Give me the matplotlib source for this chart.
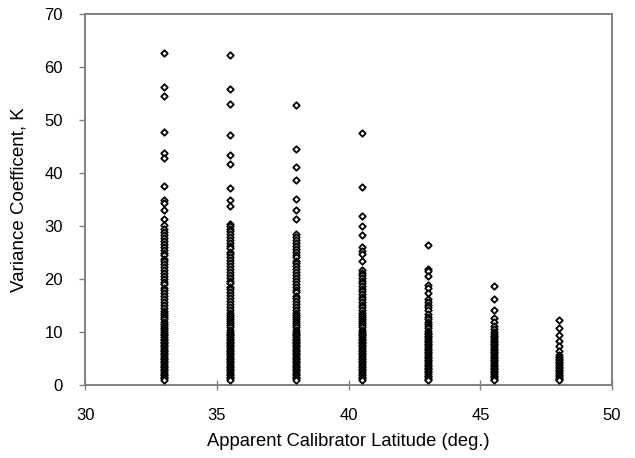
import matplotlib
matplotlib.use("Agg")
import matplotlib.pyplot as plt

plt.rcParams['font.family'] = ['Liberation Sans', 'DejaVu Sans']

latitudes = [33.0, 35.5, 38.0, 40.5, 43.0, 45.5, 48.0]

k_33 = [62.7, 56.2, 54.6, 47.7, 43.8, 42.9, 37.5, 35.0, 34.4, 33.0, 31.4, 30.3,
        29.4, 28.9, 28.3, 27.8, 27.2, 26.7, 26.1, 25.6, 25.0, 24.5, 23.9, 23.4,
        22.8, 22.3, 21.7, 21.2, 20.6, 20.1, 19.5, 19.0, 18.4, 17.9, 17.3, 16.8,
        16.2, 15.7, 15.1, 14.6, 14.0, 13.6, 13.2, 12.8, 12.4, 12.0, 11.6, 11.2,
        10.8, 10.4, 10.0, 9.7, 9.4, 9.1, 8.8, 8.5, 8.2, 7.9, 7.6, 7.3, 7.0, 6.7,
        6.4, 6.1, 5.8, 5.5, 5.2, 4.9, 4.6, 4.3, 4.0, 3.7, 3.4, 3.1, 2.8, 2.5,
        2.2, 1.9, 1.6, 1.3, 1.0]

k_35 = [62.3, 55.8, 53.1, 47.3, 43.4, 41.7, 37.2, 34.9, 33.8, 30.5, 30.0,
        29.5, 29.0, 28.5, 28.0, 27.4, 26.9, 26.3, 25.8, 25.2, 24.7, 24.1, 23.6,
        23.0, 22.5, 21.9, 21.4, 20.8, 20.3, 19.7, 19.2, 18.6, 18.1, 17.5, 17.0,
        16.4, 15.9, 15.3, 14.8, 14.2, 13.7, 13.3, 12.9, 12.5, 12.1, 11.7, 11.3,
        10.9, 10.5, 10.1, 9.7, 9.4, 9.1, 8.8, 8.5, 8.2, 7.9, 7.6, 7.3, 7.0, 6.7,
        6.4, 6.1, 5.8, 5.5, 5.2, 4.9, 4.6, 4.3, 4.0, 3.7, 3.4, 3.1, 2.8, 2.5,
        2.2, 1.9, 1.6, 1.3, 1.0]

k_38 = [52.8, 44.6, 41.1, 38.8, 35.1, 33.0, 31.4, 28.5, 28.0, 27.4, 26.8,
        26.3, 25.7, 25.2, 24.6, 24.1, 23.5, 23.0, 22.4, 21.9, 21.3, 20.8, 20.2,
        19.7, 19.1, 18.6, 18.0, 17.5, 16.9, 16.4, 15.8, 15.3, 14.7, 14.2, 13.7,
        13.3, 12.9, 12.5, 12.1, 11.7, 11.3, 10.9, 10.5, 10.1, 9.7, 9.4, 9.1,
        8.8, 8.5, 8.2, 7.9, 7.6, 7.3, 7.0, 6.7, 6.4, 6.1, 5.8, 5.5, 5.2, 4.9,
        4.6, 4.3, 4.0, 3.7, 3.4, 3.1, 2.8, 2.5, 2.2, 1.9, 1.6, 1.3, 1.0]

k_40 = [47.5, 37.3, 31.9, 30.1, 28.3, 26.0, 25.3, 24.7, 23.4, 21.7, 21.2,
        20.7, 20.2, 19.7, 19.2, 18.7, 18.2, 17.7, 17.2, 16.7, 16.2, 15.7, 15.2,
        14.7, 14.2, 13.7, 13.3, 12.9, 12.5, 12.1, 11.7, 11.3, 10.9, 10.5, 10.1,
        9.7, 9.4, 9.1, 8.8, 8.5, 8.2, 7.9, 7.6, 7.3, 7.0, 6.7, 6.4, 6.1, 5.8,
        5.5, 5.2, 4.9, 4.6, 4.3, 4.0, 3.7, 3.4, 3.1, 2.8, 2.5, 2.2, 1.9, 1.6,
        1.3, 1.0]

k_43 = [26.5, 21.9, 21.5, 20.6, 18.9, 18.4, 17.4, 16.3, 15.7, 15.2, 14.7,
        14.1, 13.4, 12.9, 12.4, 11.9, 11.5, 11.1, 10.7, 10.3, 9.9, 9.6, 9.3,
        9.0, 8.7, 8.4, 8.1, 7.8, 7.5, 7.2, 6.9, 6.6, 6.3, 6.0, 5.7, 5.4, 5.1,
        4.8, 4.5, 4.2, 3.9, 3.6, 3.3, 3.0, 2.7, 2.4, 2.1, 1.8, 1.5, 1.2, 1.0]

k_45 = [18.7, 16.2, 14.2, 12.6, 12.0, 11.2, 10.6, 10.1, 9.7, 9.3, 9.0, 8.7,
        8.4, 8.1, 7.8, 7.5, 7.2, 6.9, 6.6, 6.3, 6.0, 5.7, 5.4, 5.1, 4.8, 4.5,
        4.2, 3.9, 3.6, 3.3, 3.0, 2.7, 2.4, 2.1, 1.8, 1.5, 1.2, 1.0]

k_48 = [12.3, 10.7, 9.4, 8.4, 7.4, 6.5, 5.7, 5.3, 5.0, 4.7, 4.4, 4.1, 3.8,
        3.5, 3.2, 2.9, 2.6, 2.3, 2.0, 1.7, 1.4, 1.1, 1.0]

k_columns = [k_33, k_35, k_38, k_40, k_43, k_45, k_48]

x_ticks = [30, 35, 40, 45, 50]
y_ticks = [0, 10, 20, 30, 40, 50, 60, 70]

fig = plt.figure(figsize=(6.35, 4.58), dpi=100)
ax = fig.add_axes([0.134, 0.159, 0.830, 0.810])

for lat, ks in zip(latitudes, k_columns):
    ax.scatter([lat] * len(ks), ks, marker='D', s=11, facecolor='white',
               edgecolor='black', linewidths=1.3, zorder=3)

ax.set_xlim(30, 50)
ax.set_ylim(0, 70)
ax.set_xticks(x_ticks)
ax.set_yticks(y_ticks)

gray = '#808080'
for sp in ax.spines.values():
    sp.set_color(gray)
    sp.set_linewidth(1.4)

ax.tick_params(axis='x', direction='inout', length=7, width=1, color=gray,
               labelsize=12, pad=13)
ax.tick_params(axis='y', direction='out', length=4, width=1, color=gray,
               labelsize=12, pad=12)

ax.set_xlabel('Apparent Calibrator Latitude (deg.)', fontsize=13.2, labelpad=7)
ax.set_ylabel('Variance Coefficent, K', fontsize=13.5, labelpad=12)

fig.savefig('out.png', dpi=100)
